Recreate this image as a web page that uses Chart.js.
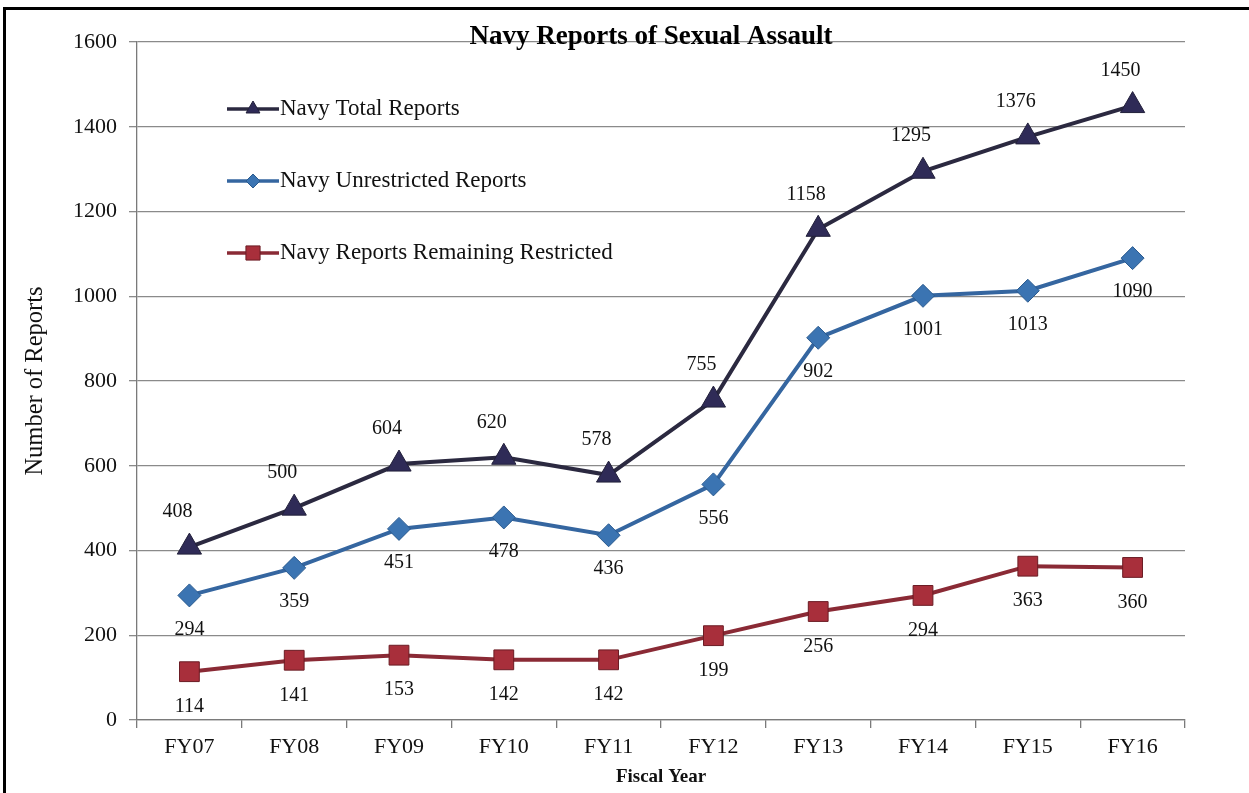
<!DOCTYPE html>
<html>
<head>
<meta charset="utf-8">
<title>Navy Reports of Sexual Assault</title>
<script src="https://cdn.jsdelivr.net/npm/chart.js@4.4.1/dist/chart.umd.min.js"></script>
<style>
  html, body { margin: 0; padding: 0; background: #fff; overflow: hidden; }
  #wrap { position: relative; width: 1249px; height: 793px; }
  #frame { position: absolute; left: 3px; top: 7px; width: 1400px; height: 900px; border: 3px solid #000; pointer-events: none; }
  canvas { position: absolute; left: 0; top: 0; }
</style>
</head>
<body>
<div id="wrap">
  <canvas id="chart" width="1249" height="793"></canvas>
  <div id="frame"></div>
</div>
<script>
// Chart data
const fiscalYears = ['FY07', 'FY08', 'FY09', 'FY10', 'FY11', 'FY12', 'FY13', 'FY14', 'FY15', 'FY16'];
const totalReports = [408, 500, 604, 620, 578, 755, 1158, 1295, 1376, 1450];
const unrestrictedReports = [294, 359, 451, 478, 436, 556, 902, 1001, 1013, 1090];
const restrictedReports = [114, 141, 153, 142, 142, 199, 256, 294, 363, 360];
const yTickValues = [0, 200, 400, 600, 800, 1000, 1200, 1400, 1600];

const SERIF = '"Liberation Serif", "Times New Roman", serif';

/**
 * Draws the value next to each point (above or below)
 */
const valueLabels = {
  id: 'valueLabels',
  afterDatasetsDraw(chart) {
    const ctx = chart.ctx;
    ctx.save();
    ctx.font = '20px ' + SERIF;
    ctx.fillStyle = '#111';
    ctx.textAlign = 'center';
    ctx.textBaseline = 'middle';
    chart.data.datasets.forEach((ds, i) => {
      const meta = chart.getDatasetMeta(i);
      const dx = ds.labelDx || 0;
      const dy = ds.labelDy || 0;
      meta.data.forEach((pt, j) => {
        ctx.fillText(String(ds.data[j]), pt.x + dx, pt.y + dy);
      });
    });
    ctx.restore();
  }
};

/**
 * Legend drawn inside the plot area, plus the chart title
 */
const insideLegend = {
  id: 'insideLegend',
  afterDraw(chart) {
    const ctx = chart.ctx;
    const area = chart.chartArea;
    const x0 = area.left + 90;
    const lineLen = 52;
    ctx.save();
    chart.data.datasets.forEach((ds, i) => {
      const y = area.top + 67 + i * 72;
      ctx.strokeStyle = ds.borderColor;
      ctx.lineWidth = 3.5;
      ctx.beginPath();
      ctx.moveTo(x0, y);
      ctx.lineTo(x0 + lineLen, y);
      ctx.stroke();
      ctx.fillStyle = ds.pointBackgroundColor;
      ctx.strokeStyle = ds.pointBorderColor;
      ctx.lineWidth = 1;
      Chart.helpers.drawPoint(ctx, {
        pointStyle: ds.pointStyle,
        radius: ds.legendRadius,
        rotation: 0,
        borderWidth: 1
      }, x0 + lineLen / 2, y);
      ctx.fillStyle = '#111';
      ctx.font = '23px ' + SERIF;
      ctx.textAlign = 'left';
      ctx.textBaseline = 'middle';
      ctx.fillText(ds.label, x0 + lineLen + 1, y);
    });

    // title
    ctx.fillStyle = '#000';
    ctx.font = 'bold 27px ' + SERIF;
    ctx.textAlign = 'center';
    ctx.textBaseline = 'middle';
    ctx.fillText('Navy Reports of Sexual Assault', 651, 37);
    ctx.restore();
  }
};

const ctx = document.getElementById('chart').getContext('2d');

new Chart(ctx, {
  type: 'line',
  data: {
    labels: fiscalYears,
    datasets: [
      {
        label: 'Navy Total Reports',
        data: totalReports,
        borderColor: '#2b2940',
        borderWidth: 4,
        pointStyle: 'triangle',
        pointRadius: 14,
        pointBackgroundColor: '#2f2b57',
        pointBorderColor: '#22203a',
        pointBorderWidth: 1,
        legendRadius: 8,
        labelDx: -12,
        labelDy: -35
      },
      {
        label: 'Navy Unrestricted Reports',
        data: unrestrictedReports,
        borderColor: '#3566a0',
        borderWidth: 4,
        pointStyle: 'rectRot',
        pointRadius: 11.5,
        pointBackgroundColor: '#3b74b2',
        pointBorderColor: '#2a5a8e',
        pointBorderWidth: 1,
        legendRadius: 7,
        labelDx: 0,
        labelDy: 34
      },
      {
        label: 'Navy Reports Remaining Restricted',
        data: restrictedReports,
        borderColor: '#8a2a35',
        borderWidth: 4,
        pointStyle: 'rect',
        pointRadius: 14,
        pointBackgroundColor: '#a82f3b',
        pointBorderColor: '#6b1c24',
        pointBorderWidth: 1,
        legendRadius: 10,
        labelDx: 0,
        labelDy: 35
      }
    ]
  },
  options: {
    responsive: false,
    maintainAspectRatio: false,
    animation: false,
    layout: {
      padding: { left: 0, top: 42, right: 64, bottom: 0 }
    },
    plugins: {
      legend: { display: false },
      title: { display: false },
      tooltip: { enabled: false }
    },
    scales: {
      x: {
        offset: true,
        afterFit(scale) { scale.height = 73; },
        grid: {
          offset: true,
          drawOnChartArea: false,
          drawTicks: true,
          tickLength: 8,
          color: '#7a7a7a',
          lineWidth: 1.3
        },
        border: { color: '#7a7a7a', width: 1.3 },
        ticks: {
          color: '#111',
          padding: 6,
          font: { family: SERIF, size: 22 }
        },
        title: {
          display: true,
          text: 'Fiscal Year',
          color: '#111',
          font: { family: SERIF, size: 19, weight: 'bold' },
          padding: { top: 0, bottom: 5 }
        }
      },
      y: {
        min: 0,
        max: 1600,
        afterFit(scale) { scale.width = 137; },
        afterBuildTicks(scale) {
          scale.ticks = yTickValues.map(v => ({ value: v }));
        },
        grid: {
          color: '#8a8a8a',
          lineWidth: 1.3,
          drawTicks: true,
          tickLength: 8
        },
        border: { color: '#7a7a7a', width: 1.3 },
        ticks: {
          color: '#111',
          padding: 12,
          font: { family: SERIF, size: 22 },
          callback: function (value) {
            return String(value);
          }
        },
        title: {
          display: true,
          text: 'Number of Reports',
          color: '#111',
          font: { family: SERIF, size: 24.5 },
          padding: { top: 21, bottom: 0 }
        }
      }
    }
  },
  plugins: [valueLabels, insideLegend]
});
</script>
</body>
</html>
